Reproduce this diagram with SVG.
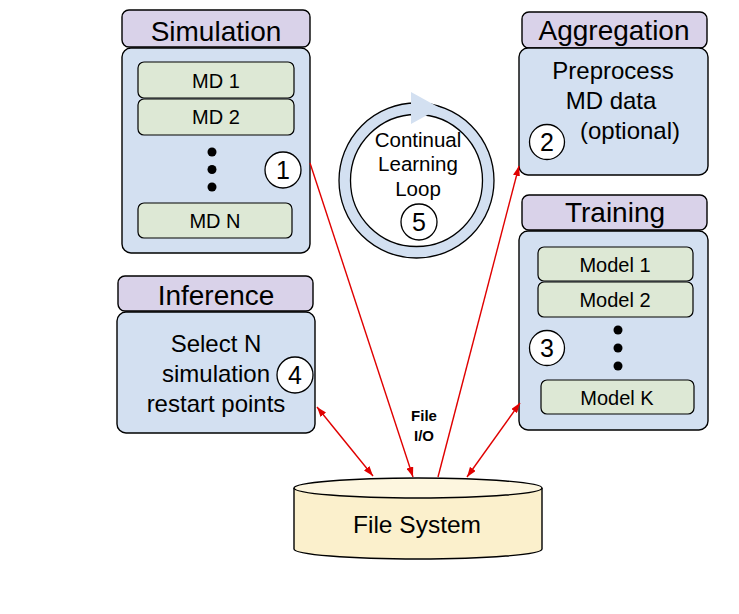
<svg xmlns="http://www.w3.org/2000/svg" width="739" height="614" viewBox="0 0 739 614">
<defs>
<style>
text{font-family:"Liberation Sans",Arial,sans-serif;fill:#000;text-anchor:middle}
.hdr{fill:#d9d2e9;stroke:#000;stroke-width:1.4}
.body{fill:#d3e0f1;stroke:#000;stroke-width:1.4}
.item{fill:#dde8d5;stroke:#000;stroke-width:1.2}
.num{fill:#fff;stroke:#000;stroke-width:1.3}
.h{font-size:28px}
.t{font-size:24px}
.s{font-size:20px}
.d{font-size:25px}
.dot{fill:#000}
.conn{stroke:#e00000;stroke-width:1.4;fill:none}
.io{font-size:15px;font-weight:bold}
</style>
<marker id="ah" viewBox="0 0 10 7" refX="10" refY="3.5" markerWidth="10" markerHeight="7" markerUnits="userSpaceOnUse" orient="auto-start-reverse">
<path d="M0,0 L10,3.5 L0,7 z" fill="#e00000"/>
</marker>
</defs>
<rect width="739" height="614" fill="#fff"/>

<g id="simulation">
<rect class="hdr" x="122" y="10" width="188" height="37" rx="7"/>
<text class="h" x="216" y="41">Simulation</text>
<rect class="body" x="122" y="48" width="188" height="205" rx="9"/>
<rect class="item" x="138" y="62" width="156" height="36" rx="6"/>
<text class="s" x="216" y="88">MD 1</text>
<rect class="item" x="138" y="99" width="156" height="36" rx="6"/>
<text class="s" x="216" y="124">MD 2</text>
<circle class="dot" cx="212" cy="152" r="4.5"/>
<circle class="dot" cx="212" cy="169.5" r="4.5"/>
<circle class="dot" cx="212" cy="187" r="4.5"/>
<rect class="item" x="138" y="203" width="154" height="35" rx="6"/>
<text class="s" x="215" y="228">MD N</text>
<circle class="num" cx="283" cy="170" r="18"/>
<text class="d" x="283" y="179">1</text>
</g>

<g id="aggregation">
<rect class="hdr" x="522" y="12" width="185" height="36" rx="7"/>
<text class="h" x="614" y="40">Aggregation</text>
<rect class="body" x="519" y="48" width="189" height="127" rx="9"/>
<text class="t" x="613" y="79">Preprocess</text>
<text class="t" x="611" y="109">MD data</text>
<text class="t" x="630" y="139">(optional)</text>
<circle class="num" cx="547" cy="142" r="17.5"/>
<text class="d" x="547" y="151">2</text>
</g>

<g id="training">
<rect class="hdr" x="522" y="195" width="185" height="35" rx="7"/>
<text class="h" x="615" y="222">Training</text>
<rect class="body" x="519" y="231" width="189" height="199" rx="9"/>
<rect class="item" x="538" y="247" width="155" height="34" rx="6"/>
<text class="s" x="615" y="272">Model 1</text>
<rect class="item" x="538" y="282" width="155" height="35" rx="6"/>
<text class="s" x="615" y="307">Model 2</text>
<circle class="dot" cx="618" cy="330" r="4.5"/>
<circle class="dot" cx="618" cy="348" r="4.5"/>
<circle class="dot" cx="618" cy="366" r="4.5"/>
<rect class="item" x="541" y="380" width="153" height="34" rx="6"/>
<text class="s" x="617" y="405">Model K</text>
<circle class="num" cx="547" cy="348" r="17.5"/>
<text class="d" x="547" y="357">3</text>
</g>

<g id="inference">
<rect class="hdr" x="118" y="276" width="195" height="35" rx="7"/>
<text class="h" x="216" y="305">Inference</text>
<rect class="body" x="117" y="312" width="198" height="121" rx="9"/>
<text class="t" x="216" y="352">Select N</text>
<text class="t" x="216" y="382">simulation</text>
<text class="t" x="216" y="412">restart points</text>
<circle class="num" cx="295" cy="375" r="18"/>
<text class="d" x="295" y="384">4</text>
</g>

<g id="loop">
<circle cx="416.5" cy="180.5" r="71.75" fill="none" stroke="#d3e0f1" stroke-width="11.5"/>
<circle cx="416.5" cy="180.5" r="77.5" fill="none" stroke="#000" stroke-width="1.3"/>
<circle cx="416.5" cy="180.5" r="66" fill="none" stroke="#000" stroke-width="1.3"/>
<path d="M411,92 L440,108 L411,124 z" fill="#d3e0f1"/>
<text style="font-size:20.5px" x="418" y="147">Continual</text>
<text style="font-size:20.5px" x="418" y="171">Learning</text>
<text style="font-size:20.5px" x="418" y="196">Loop</text>
<circle class="num" cx="419" cy="222" r="18"/>
<text class="d" x="419" y="231">5</text>
</g>

<g id="filesystem">
<path d="M294,488 L294,549 A124,10 0 0 0 542,549 L542,488" fill="#fbf0cc" stroke="#000" stroke-width="1.4"/>
<ellipse cx="418" cy="488" rx="124" ry="10" fill="#fdf6df" stroke="#000" stroke-width="1.4"/>
<text style="font-size:24.5px" x="417" y="533">File System</text>
</g>

<g id="connectors">
<line class="conn" x1="317" y1="407" x2="373" y2="476" marker-start="url(#ah)" marker-end="url(#ah)"/>
<line class="conn" x1="310" y1="163" x2="413" y2="477" marker-end="url(#ah)"/>
<line class="conn" x1="438" y1="477" x2="519" y2="166" marker-end="url(#ah)"/>
<line class="conn" x1="467" y1="477" x2="520" y2="403" marker-start="url(#ah)" marker-end="url(#ah)"/>
<text class="io" x="424" y="421">File</text>
<text class="io" x="424" y="441">I/O</text>
</g>
</svg>
